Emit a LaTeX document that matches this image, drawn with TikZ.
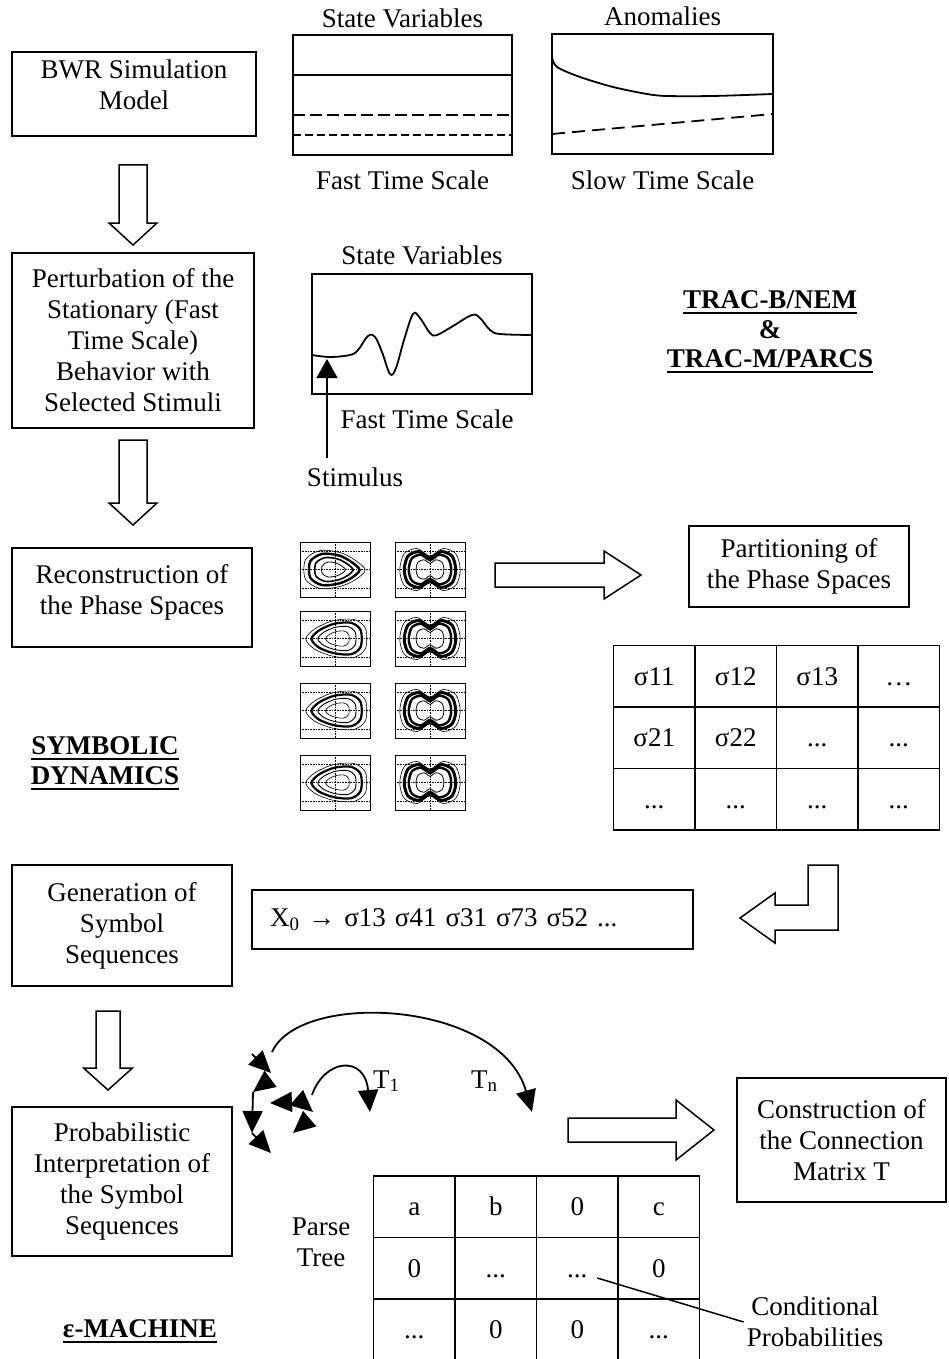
\documentclass[tikz,border=0pt]{standalone}
\usepackage{fontspec}
\setmainfont{Liberation Serif}
\usepackage{tikz}
\usetikzlibrary{positioning, arrows.meta, matrix}

\tikzstyle{process} = [rectangle, draw=black, line width=1.5pt, align=center, inner sep=0pt]
\tikzstyle{chart} = [rectangle, draw=black, line width=1.5pt, inner sep=0pt]
\tikzstyle{plotlabel} = [inner sep=0pt]
\tikzstyle{heading} = [font=\fontsize{27}{31}\selectfont\bfseries, inner sep=0pt, anchor=base]
\tikzstyle{blockarrow} = [draw=black, line width=1.5pt, line join=miter]
\tikzstyle{treearrow} = [line width=1.8pt, -{Triangle[length=22pt,width=20pt]}]
\tikzstyle{cell} = [rectangle, draw=black, line width=1.5pt, minimum width=81.5pt, minimum height=61.5pt, inner sep=0pt, text height=18pt, text depth=0pt]

% block arrow pointing down: x, top, tip, half shaft, half head
\newcommand{\downblock}[5]{%
  \draw[blockarrow] (#1-#4,#2) -- (#1+#4,#2) -- (#1+#4,#3-22) -- (#1+#5,#3-22)
    -- (#1,#3) -- (#1-#5,#3-22) -- (#1-#4,#3-22) -- cycle;}

\tikzset{
  pear/.pic={
    \draw[line width=0.8pt] (0,0) rectangle (70,55);
    \draw[densely dotted, line width=0.6pt] (0,27.5) -- (70,27.5) (35,0) -- (35,55) (0,9) -- (70,9) (0,46) -- (70,46);
    \foreach \s/\w in {1.15/0.6pt, 0.95/2.2pt, 0.72/0.9pt, 0.45/0.6pt}
      \draw[line width=\w, shift={(38,27.5)}, scale=\s, shift={(-38,-27.5)}]
        plot[smooth cycle] coordinates {(10,28) (18,19) (34,12) (52,11) (62,19) (62,36) (52,44) (34,43) (18,37)};
  },
  bulb/.pic={
    \draw[line width=0.8pt] (0,0) rectangle (70,55);
    \draw[densely dotted, line width=0.6pt] (0,27.5) -- (70,27.5) (35,0) -- (35,55) (0,9) -- (70,9) (0,46) -- (70,46);
    \foreach \s/\w in {1.15/0.6pt, 0.95/2.4pt, 0.72/1.6pt, 0.45/0.8pt}
      \draw[line width=\w, shift={(33,27.5)}, scale=\s, shift={(-33,-27.5)}]
        plot[smooth cycle] coordinates {(61,28) (53,20) (40,13) (22,11) (9,19) (9,36) (22,44) (40,42) (53,36)};
  },
  peanut/.pic={
    \draw[line width=0.8pt] (0,0) rectangle (70,55);
    \draw[densely dotted, line width=0.6pt] (0,27.5) -- (70,27.5) (35,0) -- (35,55) (0,9) -- (70,9) (0,46) -- (70,46);
    \foreach \s/\w in {1.08/0.6pt, 0.92/3pt, 0.76/2.4pt, 0.5/0.8pt}
      \draw[line width=\w, shift={(35,27.5)}, scale=\s, shift={(-35,-27.5)}]
        plot[smooth cycle] coordinates {(7,28) (11,13) (23,8) (35,15) (47,8) (59,13) (63,28) (59,42) (47,47) (35,40) (23,47) (11,42)};
  }
}

\begin{document}
\begin{tikzpicture}[x=1pt, y=-1pt, font=\fontsize{27}{31}\selectfont]
\useasboundingbox (0,0) rectangle (948,1359);

% left column
\node[process, minimum width=244pt, minimum height=84pt, text depth=19pt] (bwr) at (134,94) {BWR Simulation\\Model};
\node[process, minimum width=242pt, minimum height=175pt] (perturb) at (133,340.5) {Perturbation of the\\Stationary (Fast\\Time Scale)\\Behavior with\\Selected Stimuli};
\node[process, minimum width=240pt, minimum height=99pt, text depth=16pt] (recon) at (132,597.5) {Reconstruction of\\the Phase Spaces};
\node[process, minimum width=220pt, minimum height=121pt] (symgen) at (122,925.5) {Generation of\\Symbol\\Sequences};
\node[process, minimum width=220pt, minimum height=149pt] (probint) at (122,1181.5) {Probabilistic\\Interpretation of\\the Symbol\\Sequences};
\downblock{133}{165}{245}{14}{24}
\downblock{133}{440}{525}{14}{24}
\downblock{108}{1011}{1090}{12}{24.5}

% headings, underlined
\node[heading] (symb1) at (105,754) {SYMBOLIC};
\node[heading] (symb2) at (105,784) {DYNAMICS};
\node[heading] (emach) at (140,1337) {ε-MACHINE};
\node[heading] (trac1) at (770,308) {TRAC-B/NEM};
\node[heading] (trac2) at (770,338) {\&};
\node[heading] (trac3) at (770,367) {TRAC-M/PARCS};
\foreach \n in {symb1,symb2,emach,trac1,trac3}
  \draw[line width=2pt] ([yshift=-5pt]\n.base west) -- ([yshift=-5pt]\n.base east);

% fast and slow time scale
\node[chart, minimum width=219pt, minimum height=120pt] (svplot) at (402.5,95) {};
\node[plotlabel, above=6pt of svplot] (svtitle) {State Variables};
\node[plotlabel, below=15pt of svplot] (svscale) {Fast Time Scale};
\draw[line width=1.8pt] (293,75) -- (512,75);
\draw[line width=1.8pt, dash pattern=on 12pt off 5pt] (293,115) -- (512,115);
\draw[line width=1.8pt, dash pattern=on 8pt off 4pt] (293,135) -- (512,135);

\node[chart, minimum width=221pt, minimum height=120pt] (anplot) at (662.5,94) {};
\node[plotlabel, above=7pt of anplot] (antitle) {Anomalies};
\node[plotlabel, below=16pt of anplot] (anscale) {Slow Time Scale};
\draw[line width=1.8pt] plot[smooth] coordinates {(552,57) (557,67) (580,77) (613,87) (647,94) (667,96) (713,96) (773,94)};
\draw[line width=1.8pt, dash pattern=on 13pt off 7pt] (552,134) -- (773,114);

% stimulus
\node[chart, minimum width=220pt, minimum height=120pt] (stimplot) at (422,334) {};
\node[plotlabel, above=8pt of stimplot] (stimtitle) {State Variables};
\node[plotlabel, below=15pt of stimplot, xshift=5pt] (stimscale) {Fast Time Scale};
\draw[line width=1.8pt] plot[smooth, tension=0.6] coordinates {(312,355) (330,357) (350,355) (358,350) (368,336) (375,337) (382,352) (390,374) (396,368) (404,340) (413,314) (420,318) (430,333) (437,335) (453,326) (472,315) (480,318) (490,330) (500,334) (532,335)};
\node[plotlabel, anchor=base] (stimulus) at (355,486) {Stimulus};
\coordinate (stimtail) at (327,458);
\coordinate (stimpoint) at (327,359);
\draw[line width=1.5pt, -{Triangle[length=19pt,width=21pt]}] (stimtail) -- (stimpoint);

% phase spaces
\pic at (300,542) {bulb};
\pic at (395,542) {peanut};
\pic at (300,611) {pear};
\pic at (395,611) {peanut};
\pic at (300,683) {pear};
\pic at (395,683) {peanut};
\pic at (300,755) {pear};
\pic at (395,755) {peanut};

\draw[blockarrow] (495,563) -- (604,563) -- (604,551) -- (641,575) -- (604,599) -- (604,587) -- (495,587) -- cycle;
\node[process, minimum width=220pt, minimum height=81pt] (partition) at (799,566.5) {Partitioning of\\the Phase Spaces};

\matrix (sigtab) [matrix of nodes, nodes={cell}, column sep=-1.5pt, row sep=-1.5pt] at (776.5,737.5) {
  σ11 & σ12 & σ13 & … \\
  σ21 & σ22 & ... & ... \\
  ... & ... & ... & ... \\
};

% symbol sequences
\node[process, minimum width=441pt, minimum height=59pt, align=left, text width=405pt] (symseq) at (472.5,919.5) {X\textsubscript{0} → σ13 σ41 σ31 σ73 σ52 ...};
\draw[blockarrow] (838,865) -- (838,930) -- (775,930) -- (775,943) -- (740,918) -- (775,893) -- (775,905) -- (808,905) -- (808,865) -- cycle;

% parse tree
\coordinate (ra) at (252,1054);
\coordinate (r0) at (271,1073);
\coordinate (rb) at (269,1080);
\coordinate (r1) at (253,1092);
\coordinate (r2) at (252,1133);
\coordinate (r3) at (271,1153);
\coordinate (qa) at (290,1102);
\coordinate (q0) at (270,1103);
\coordinate (qb) at (298,1099);
\coordinate (q1) at (313,1112);
\coordinate (qc) at (307,1121);
\coordinate (q2) at (293,1133);
\coordinate (t1) at (370,1112);
\coordinate (tn) at (532,1112);
\draw[treearrow] (ra) -- (r0);
\draw[treearrow] (rb) -- (r1);
\draw[treearrow] (r1) -- (r2);
\draw[treearrow] (r2) -- (r3);
\draw[treearrow] (qa) -- (q0);
\draw[treearrow] (qb) -- (q1);
\draw[treearrow] (qc) -- (q2);
\draw[treearrow] (312,1095) .. controls (325,1058) and (365,1055) .. (t1);
\draw[treearrow] (272,1052) .. controls (300,990) and (500,1000) .. (tn);
\node[plotlabel, anchor=base west] (tlabel1) at (373,1088) {T\textsubscript{1}};
\node[plotlabel, anchor=base west] (tlabeln) at (471,1088) {T\textsubscript{n}};

\draw[blockarrow] (568,1118) -- (676,1118) -- (676,1100) -- (714,1130) -- (676,1160) -- (676,1142) -- (568,1142) -- cycle;
\node[process, minimum width=209pt, minimum height=124pt] (conmatrix) at (841.5,1140) {Construction of\\the Connection\\Matrix T};

\node[plotlabel, align=center] (parsetree) at (321,1242) {Parse\\Tree};
\matrix (parsetab) [matrix of nodes, nodes={cell}, column sep=-1.5pt, row sep=-1.5pt] at (536.5,1268) {
  a & b & 0 & c \\
  0 & ... & ... & 0 \\
  ... & 0 & 0 & ... \\
};
\node[plotlabel, align=center, inner sep=3pt] (condprob) at (815,1322) {Conditional\\Probabilities};
\draw[line width=1.5pt] ([xshift=20pt,yshift=-10pt]parsetab-2-3.center) -- (condprob.west);
\end{tikzpicture}
\end{document}
